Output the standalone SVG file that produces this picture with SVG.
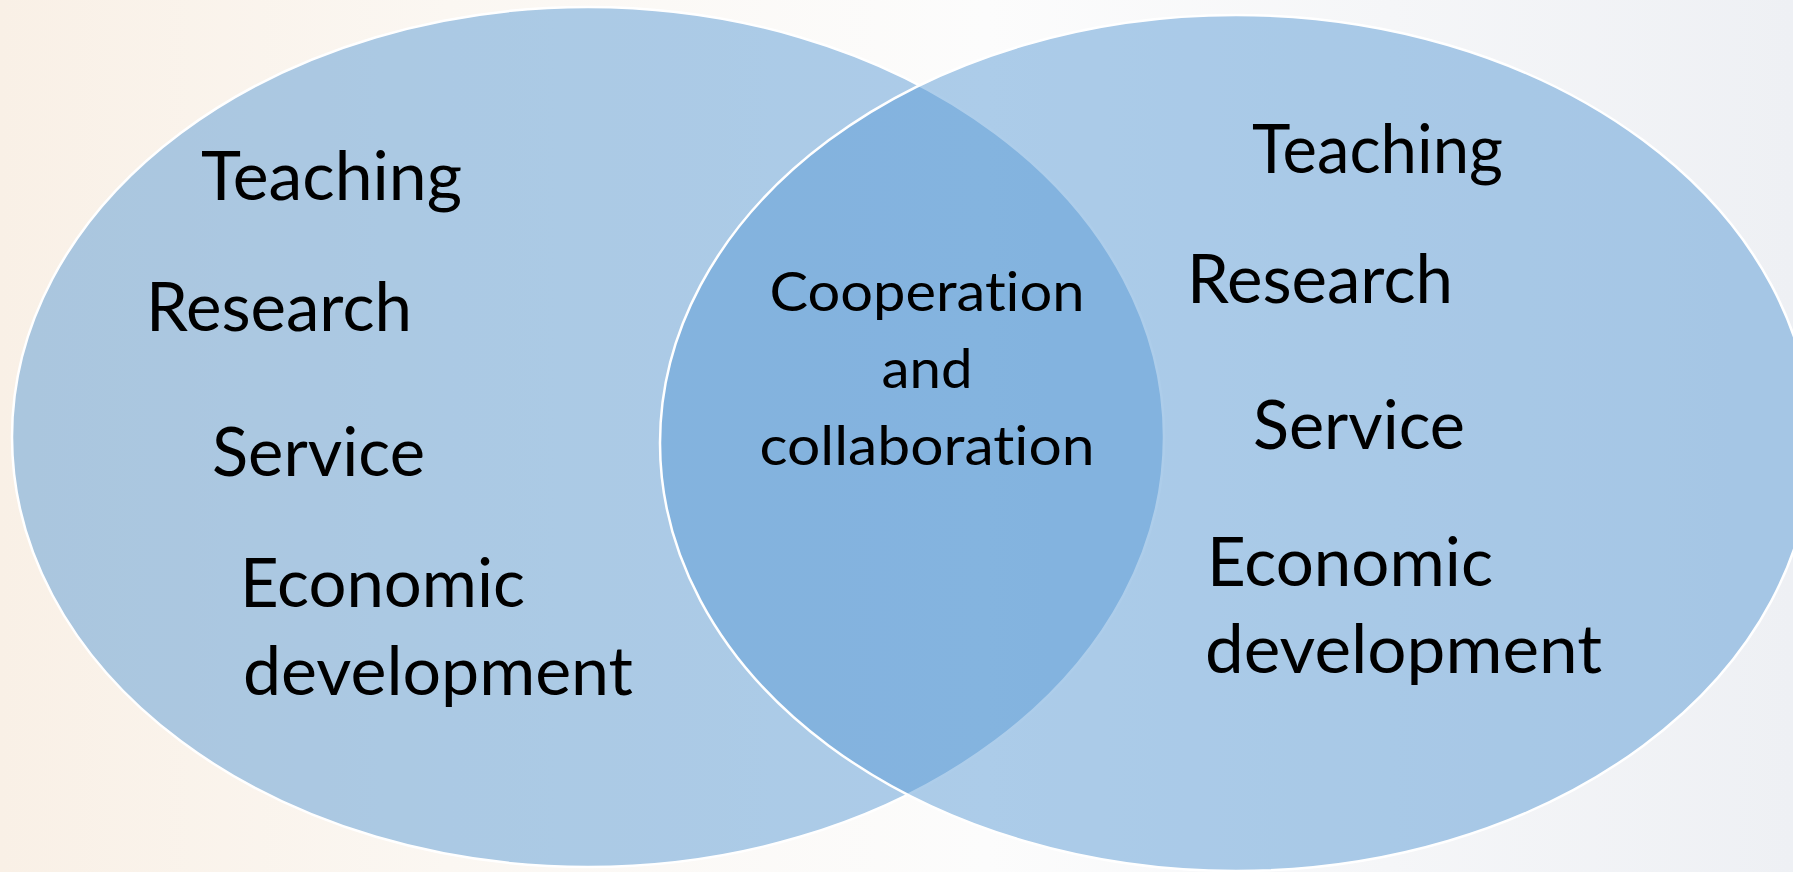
<svg xmlns="http://www.w3.org/2000/svg" width="1793" height="872" viewBox="0 0 1793 872">
  <style>
    .set { fill: #5B9BD5; fill-opacity: 0.5; stroke: #FFFFFF; stroke-width: 2.5; }
    .lbl { font-family: Lato, "Open Sans", "Liberation Sans", sans-serif; font-size: 68px; fill: #000000; font-variant-ligatures: none; font-feature-settings: "liga" 0; }
    .mid { font-family: Lato, "Open Sans", "Liberation Sans", sans-serif; font-size: 55px; fill: #000000; text-anchor: middle; font-variant-ligatures: none; font-feature-settings: "liga" 0; }
  </style>
  <defs>
    <linearGradient id="bg" x1="0" y1="0" x2="1" y2="0">
      <stop offset="0" stop-color="#F9F0E6"/>
      <stop offset="0.25" stop-color="#FBF7F2"/>
      <stop offset="0.55" stop-color="#FCFCFC"/>
      <stop offset="1" stop-color="#EEF0F4"/>
    </linearGradient>
  </defs>
  <rect x="0" y="0" width="1793" height="872" fill="url(#bg)"/>

  <g id="left-set">
    <ellipse class="set" cx="588" cy="437" rx="576" ry="430"/>
    <text class="lbl" x="201" y="200" textLength="261" lengthAdjust="spacingAndGlyphs">Teaching</text>
    <text class="lbl" x="146" y="331" textLength="266" lengthAdjust="spacingAndGlyphs">Research</text>
    <text class="lbl" x="212" y="476" textLength="213" lengthAdjust="spacingAndGlyphs">Service</text>
    <text class="lbl" x="240" y="607" textLength="285" lengthAdjust="spacingAndGlyphs">Economic</text>
    <text class="lbl" x="243" y="695" textLength="390" lengthAdjust="spacingAndGlyphs">development</text>
  </g>

  <g id="right-set">
    <ellipse class="set" cx="1236" cy="443" rx="576" ry="428"/>
    <text class="lbl" x="1252" y="173" textLength="251" lengthAdjust="spacingAndGlyphs">Teaching</text>
    <text class="lbl" x="1187" y="303" textLength="266" lengthAdjust="spacingAndGlyphs">Research</text>
    <text class="lbl" x="1253" y="449" textLength="212" lengthAdjust="spacingAndGlyphs">Service</text>
    <text class="lbl" x="1207" y="586" textLength="286" lengthAdjust="spacingAndGlyphs">Economic</text>
    <text class="lbl" x="1205" y="673" textLength="397" lengthAdjust="spacingAndGlyphs">development</text>
  </g>

  <g id="overlap">
    <text class="mid" x="927" y="311" textLength="315" lengthAdjust="spacingAndGlyphs">Cooperation</text>
    <text class="mid" x="927" y="388" textLength="91" lengthAdjust="spacingAndGlyphs">and</text>
    <text class="mid" x="927" y="465" textLength="335" lengthAdjust="spacingAndGlyphs">collaboration</text>
  </g>

  <g id="connectors"></g>
</svg>
